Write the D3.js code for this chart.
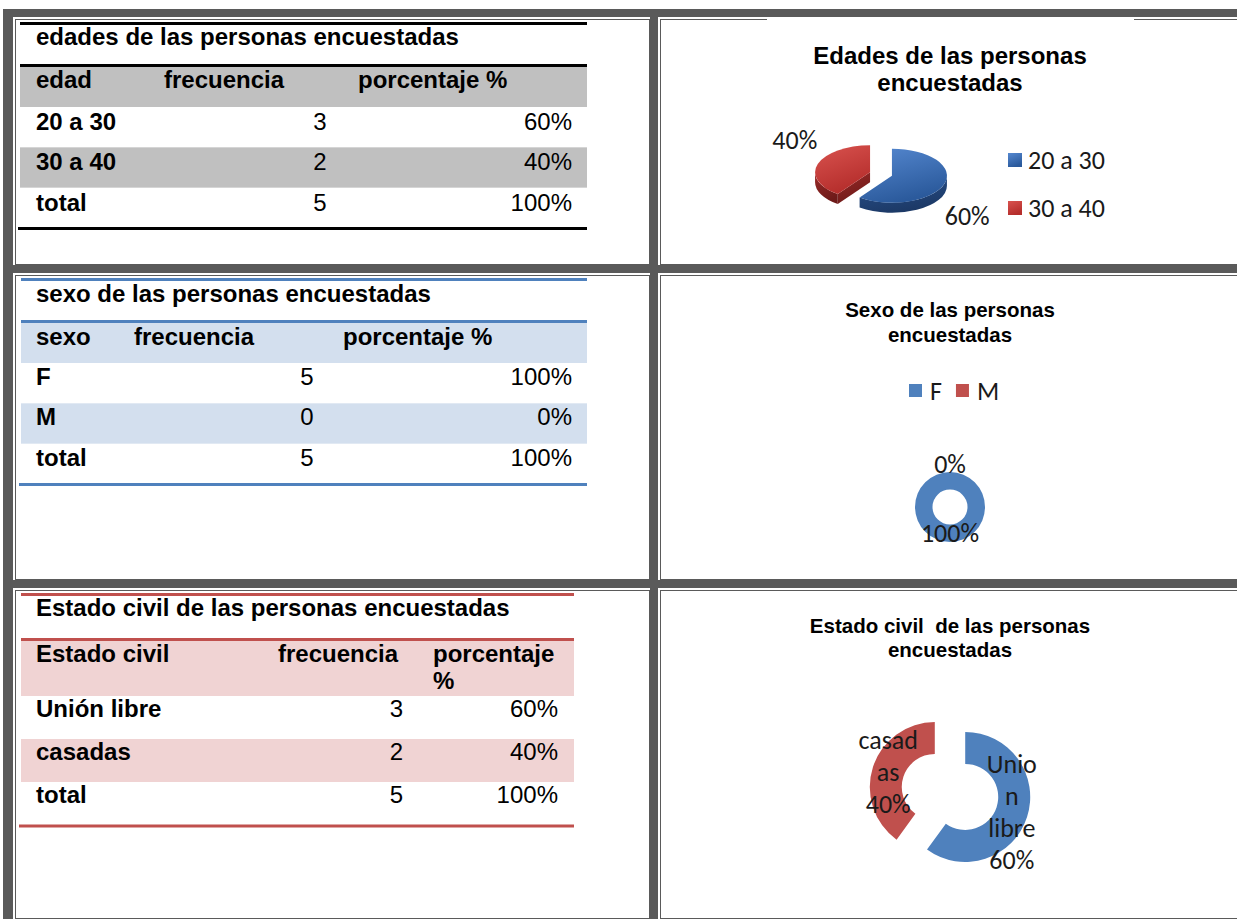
<!DOCTYPE html>
<html>
<head>
<meta charset="utf-8">
<script src="https://cdn.jsdelivr.net/npm/d3@7"></script>
<style>
body { margin: 0; background: #fff; }
svg text { font-family: "Liberation Sans", Arial, sans-serif; fill: #000; }
svg text.lbl { font-family: Carlito, Calibri, Lato, sans-serif; fill: #1a1a1a; }
</style>
</head>
<body>
<div id="chart"></div>
<script>
// ---- data ----
var edadCats = ["20 a 30", "30 a 40"];
var edadFreq = [3, 2];
var sexoCats = ["F", "M"];
var sexoFreq = [5, 0];
var civilCats = ["Unión libre", "casadas"];
var civilFreq = [3, 2];
var civilChartLines = [["Unio", "n", "libre"], ["casad", "as"]];

var edadHeaders = ["edad", "frecuencia", "porcentaje %"];
var sexoHeaders = ["sexo", "frecuencia", "porcentaje %"];
var civilHeaders = ["Estado civil", "frecuencia", "porcentaje|%"];
var totalLabel = "total";

var tableTitles = ["edades de las personas encuestadas",
                   "sexo de las personas encuestadas",
                   "Estado civil de las personas encuestadas"];
var chartTitles = [["Edades de las personas", "encuestadas"],
                   ["Sexo de las personas", "encuestadas"],
                   ["Estado civil  de las personas", "encuestadas"]];

var W = 1237, H = 919;
var frameColor = "#5a5a5a";
var pct = d3.format(".0%");
var lblSize = 26;

var svg = d3.select("#chart").append("svg")
    .attr("width", W)
    .attr("height", H);

// ---- frame (word table look) ----
svg.append("rect").attr("x", 3).attr("y", 9).attr("width", W).attr("height", H).attr("fill", frameColor);

var cols = [{x0: 13, x1: 650}, {x0: 658, x1: W + 10}];
var rows = [{y0: 17, y1: 265}, {y0: 273, y1: 580}, {y0: 588, y1: H}];
rows.forEach(function(r) {
    cols.forEach(function(c) {
        svg.append("rect")
            .attr("x", c.x0).attr("y", r.y0)
            .attr("width", c.x1 - c.x0).attr("height", r.y1 - r.y0)
            .attr("fill", "#fff");
        svg.append("rect")
            .attr("x", c.x0 + 2.5).attr("y", r.y0 + 2.5)
            .attr("width", c.x1 - c.x0 - 3).attr("height", r.y1 - r.y0 - 3)
            .attr("fill", "none").attr("stroke", frameColor);
    });
});
// chart picture covers the cell border a bit
svg.append("rect").attr("x", 767).attr("y", 19).attr("width", 367).attr("height", 3).attr("fill", "#fff");

// ---- tables ----
function drawTable(t, title, headers, cats, freq) {
    var g = svg.append("g");
    var total = d3.sum(freq);
    var data = cats.map(function(c, i) {
        return {label: c, f: freq[i], p: freq[i] / total};
    }).concat([{label: totalLabel, f: total, p: 1}]);

    var y = d3.scaleBand()
        .domain(d3.range(data.length))
        .range([t.body[0], t.body[1]]);

    // header band
    g.append("rect")
        .attr("x", t.x0).attr("y", t.head[0])
        .attr("width", t.x1 - t.x0).attr("height", t.head[1] - t.head[0])
        .attr("fill", t.band);

    // banded rows
    g.selectAll(".band").data(data.filter(function(d, i) { return i % 2 == 1; }))
        .enter().append("rect")
        .attr("class", "band")
        .attr("x", t.x0)
        .attr("y", function(d) { return y(data.indexOf(d)); })
        .attr("width", t.x1 - t.x0)
        .attr("height", y.bandwidth())
        .attr("fill", t.band);

    // rules
    [t.topRule, t.headRule, t.bottomRule].forEach(function(ry, i) {
        g.append("line")
            .attr("x1", i == 2 ? t.x0 - 2 : t.x0).attr("x2", t.x1)
            .attr("y1", ry).attr("y2", ry)
            .attr("stroke", t.rule).attr("stroke-width", 3);
    });

    g.append("text")
        .attr("x", 36).attr("y", t.titleY)
        .attr("font-size", 24).attr("font-weight", "bold")
        .text(title);

    headers.forEach(function(h, i) {
        var lines = h.split("|");
        lines.forEach(function(l, j) {
            g.append("text")
                .attr("x", t.headX[i]).attr("y", t.headY + j * 27)
                .attr("font-size", 24).attr("font-weight", "bold")
                .text(l);
        });
    });

    var row = g.selectAll(".row").data(data).enter().append("g")
        .attr("class", "row")
        .attr("transform", function(d, i) { return "translate(0," + (y(i) + t.base) + ")"; });

    row.append("text")
        .attr("x", 36)
        .attr("font-size", 24).attr("font-weight", "bold")
        .text(function(d) { return d.label; });
    row.append("text")
        .attr("x", t.freqX).attr("text-anchor", t.freqAnchor)
        .attr("font-size", 24)
        .text(function(d) { return d.f; });
    row.append("text")
        .attr("x", t.pctX).attr("text-anchor", "end")
        .attr("font-size", 24)
        .text(function(d) { return pct(d.p); });
}

drawTable({x0: 20, x1: 587, topRule: 23.5, headRule: 65.5, bottomRule: 228.5,
           titleY: 45, head: [67, 107], headY: 88, headX: [36, 164, 358],
           body: [107, 228], base: 23, freqX: 320, freqAnchor: "middle", pctX: 572,
           rule: "#000", band: "#c0c0c0"},
    tableTitles[0], edadHeaders, edadCats, edadFreq);

drawTable({x0: 21, x1: 587, topRule: 279.5, headRule: 321.5, bottomRule: 484.5,
           titleY: 302, head: [323, 363], headY: 345, headX: [36, 134, 343],
           body: [363, 484], base: 22, freqX: 307, freqAnchor: "middle", pctX: 572,
           rule: "#4f81bd", band: "#d3dfee"},
    tableTitles[1], sexoHeaders, sexoCats, sexoFreq);

drawTable({x0: 21, x1: 574, topRule: 594.5, headRule: 639.5, bottomRule: 826,
           titleY: 616, head: [641, 696], headY: 662, headX: [36, 278, 433],
           body: [696, 825], base: 21, freqX: 403, freqAnchor: "end", pctX: 558,
           rule: "#c0504d", band: "#f0d3d3"},
    tableTitles[2], civilHeaders, civilCats, civilFreq);

// ---- chart titles ----
function chartTitle(lines, cx, y0, lh, size) {
    lines.forEach(function(l, i) {
        svg.append("text")
            .attr("x", cx).attr("y", y0 + i * lh)
            .attr("text-anchor", "middle")
            .attr("font-size", size).attr("font-weight", "bold")
            .style("white-space", "pre")
            .text(l);
    });
}
chartTitle(chartTitles[0], 950, 64, 27, 24);
chartTitle(chartTitles[1], 950, 317, 25, 20.5);
chartTitle(chartTitles[2], 950, 633, 24, 20.5);

// ---- chart 1: 3D exploded pie ----
var defs = svg.append("defs");
function grad(id, c1, c2) {
    var lg = defs.append("linearGradient").attr("id", id)
        .attr("x1", 0).attr("y1", 0).attr("x2", 0.4).attr("y2", 1);
    lg.append("stop").attr("offset", "0%").attr("stop-color", c1);
    lg.append("stop").attr("offset", "100%").attr("stop-color", c2);
}
grad("blueTop", "#5588d0", "#2b5a9c");
grad("redTop", "#d9534f", "#b52e2c");
grad("blueSide", "#2a5390", "#1c3966");
grad("redSide", "#9a2a28", "#6e1a19");

var pie3 = {cx: 881, cy: 174, rx: 55, ry: 27, depth: 10, explode: 11.5};
var pieColors = [{top: "url(#blueTop)", side: "url(#blueSide)"},
                 {top: "url(#redTop)", side: "url(#redSide)"}];

function P(a, rx, ry) { return [rx * Math.sin(a), -ry * Math.cos(a)]; }

var arcs3 = d3.pie().sort(null)(edadFreq);
var total1 = d3.sum(edadFreq);
var g1 = svg.append("g");

arcs3.slice().reverse().forEach(function(d) {
    var i = d.index;
    var mid = (d.startAngle + d.endAngle) / 2;
    var off = P(mid, pie3.explode, pie3.explode * pie3.ry / pie3.rx);
    var ax = pie3.cx + off[0], ay = pie3.cy + off[1];
    var rx = pie3.rx, ry = pie3.ry, dp = pie3.depth;
    var g = g1.append("g").attr("transform", "translate(" + ax + "," + ay + ")");

    // cut faces
    [[d.startAngle, -Math.sin(d.startAngle)], [d.endAngle, Math.sin(d.endAngle)]].forEach(function(f) {
        if (f[1] > 0.01) {
            var p = P(f[0], rx, ry);
            g.append("path")
                .attr("d", "M0,0L" + p[0] + "," + p[1] + "L" + p[0] + "," + (p[1] + dp) + "L0," + dp + "Z")
                .attr("fill", pieColors[i].side);
        }
    });

    // outer wall (front half only)
    var s = Math.max(d.startAngle, Math.PI / 2), e = Math.min(d.endAngle, 3 * Math.PI / 2);
    if (e > s) {
        var p0 = P(s, rx, ry), p1 = P(e, rx, ry);
        g.append("path")
            .attr("d", "M" + p0 + "A" + rx + "," + ry + " 0 0 1 " + p1 +
                "L" + p1[0] + "," + (p1[1] + dp) +
                "A" + rx + "," + ry + " 0 0 0 " + p0[0] + "," + (p0[1] + dp) + "Z")
            .attr("fill", pieColors[i].side);
    }

    // top face
    var a0 = P(d.startAngle, rx, ry), a1 = P(d.endAngle, rx, ry);
    var large = d.endAngle - d.startAngle > Math.PI ? 1 : 0;
    g.append("path")
        .attr("d", "M0,0L" + a0 + "A" + rx + "," + ry + " 0 " + large + " 1 " + a1 + "Z")
        .attr("fill", pieColors[i].top);

    // label outside the slice
    var pm = P(mid, rx, ry);
    var lx = pm[0] + (pm[0] < 0 ? -23 : 23);
    var ly = pm[1] + (pm[1] > 0 ? dp + 22 : -24);
    g.append("text").attr("class", "lbl")
        .attr("x", lx).attr("y", ly).attr("dy", "0.35em")
        .attr("text-anchor", "middle").attr("font-size", lblSize)
        .text(pct(d.value / total1));
});

// legend chart 1
var leg1 = svg.append("g").attr("transform", "translate(1008,153)");
edadCats.forEach(function(c, i) {
    leg1.append("rect").attr("x", 0).attr("y", i * 48).attr("width", 14).attr("height", 14)
        .attr("fill", pieColors[i].top);
    leg1.append("text").attr("class", "lbl")
        .attr("x", 20).attr("y", i * 48 + 7).attr("dy", "0.35em")
        .attr("font-size", lblSize).text(c);
});

// ---- chart 2: donut ----
var donutColors = ["#4f81bd", "#c0504d"];
var arcs2 = d3.pie().sort(null)(sexoFreq);
var total2 = d3.sum(sexoFreq);
var arc2 = d3.arc().innerRadius(17.5).outerRadius(35);
var g2 = svg.append("g").attr("transform", "translate(950,507)");
g2.selectAll("path").data(arcs2).enter().append("path")
    .attr("d", arc2)
    .attr("fill", function(d, i) { return donutColors[i]; });
g2.selectAll("text").data(arcs2).enter().append("text")
    .attr("class", "lbl")
    .attr("transform", function(d) {
        var c = arc2.centroid(d);
        if (d.value == 0) {
            var a = d.startAngle;
            c = [c[0] + 17 * Math.sin(a), c[1] - 17 * Math.cos(a)];
        }
        return "translate(" + c + ")";
    })
    .attr("dy", "0.35em").attr("text-anchor", "middle").attr("font-size", lblSize)
    .text(function(d) { return pct(d.value / total2); });

// legend chart 2 (horizontal)
var leg2 = svg.append("g").attr("transform", "translate(909,384)");
var lx2 = 0;
sexoCats.forEach(function(c, i) {
    leg2.append("rect").attr("x", lx2).attr("y", 0).attr("width", 13).attr("height", 13)
        .attr("fill", donutColors[i]);
    var t = leg2.append("text").attr("class", "lbl")
        .attr("x", lx2 + 21).attr("y", 7).attr("dy", "0.35em")
        .attr("font-size", lblSize).text(c);
    lx2 += 21 + t.node().getComputedTextLength() + 14;
});

// ---- chart 3: exploded donut ----
var arcs3b = d3.pie().sort(null)(civilFreq);
var total3 = d3.sum(civilFreq);
var arc3 = d3.arc().innerRadius(33).outerRadius(65);
var g3 = svg.append("g").attr("transform", "translate(950,792)");
var sl3 = g3.selectAll(".slice").data(arcs3b).enter().append("g")
    .attr("class", "slice")
    .attr("transform", function(d) {
        var m = (d.startAngle + d.endAngle) / 2;
        return "translate(" + (16 * Math.sin(m)) + "," + (-16 * Math.cos(m)) + ")";
    });
sl3.append("path")
    .attr("d", arc3)
    .attr("fill", function(d, i) { return donutColors[i]; });
sl3.append("text")
    .attr("class", "lbl")
    .attr("transform", function(d) { return "translate(" + arc3.centroid(d) + ")"; })
    .attr("text-anchor", "middle").attr("font-size", lblSize)
    .each(function(d, i) {
        var lines = civilChartLines[i].concat([pct(d.value / total3)]);
        var t = d3.select(this);
        var y0 = -(lines.length - 1) * 32 / 2;
        lines.forEach(function(l, j) {
            t.append("tspan").attr("x", 0).attr("y", y0 + j * 32).attr("dy", "0.35em").text(l);
        });
    });
</script>
</body>
</html>
